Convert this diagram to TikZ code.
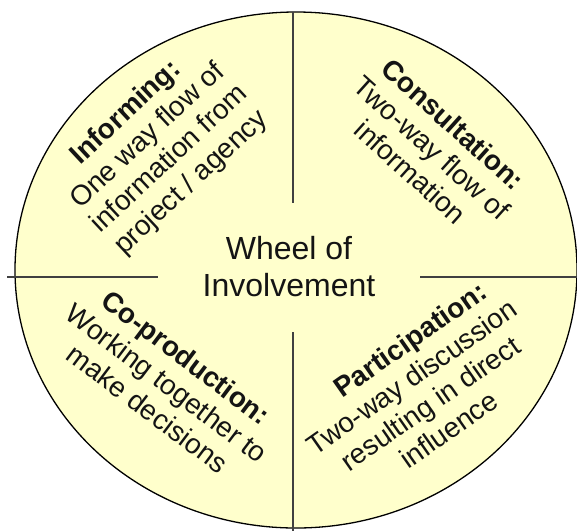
\documentclass[tikz,border=0pt]{standalone}
\usepackage{fontspec}
\setmainfont{Liberation Sans}
\begin{document}
\begin{tikzpicture}[x=1pt,y=-1pt,
  wheelfill/.style={fill=wheelyellow,draw=black,line width=1.3pt},
  divider/.style={draw=dividergray,line width=2.2pt},
  segtext/.style={align=center,text=textgray,inner sep=0pt,
    font=\fontsize{28}{32}\selectfont},
  hubtext/.style={align=center,text=textgray,inner sep=0pt,
    font=\fontsize{32}{37}\selectfont}]
\definecolor{wheelyellow}{RGB}{255,255,204}
\definecolor{dividergray}{RGB}{64,64,64}
\definecolor{textgray}{RGB}{20,20,20}
\useasboundingbox (0,0) rectangle (577,531);
% the wheel
\path[wheelfill] (296,270) ellipse [x radius=281, y radius=258];
% spokes, broken around the hub
\coordinate (vtop) at (293,12);
\coordinate (vtopend) at (293,203);
\coordinate (vbot) at (293,332);
\coordinate (vbotend) at (293,531);
\coordinate (hleft) at (7,277);
\coordinate (hleftend) at (158,277);
\coordinate (hright) at (420,277);
\coordinate (hrightend) at (577,277);
\draw[divider] (vtop) -- (vtopend);
\draw[divider] (vbot) -- (vbotend);
\draw[divider] (hleft) -- (hleftend);
\draw[divider] (hright) -- (hrightend);
% hub label
\node[hubtext] (hub) at (289,267) {Wheel of\\Involvement};
% quadrant labels
\node[segtext,rotate=43] (informing) at (159,148)
  {\textbf{Informing:}\\One way flow of\\information from\\project / agency};
\node[segtext,rotate=-42] (consult) at (432,148)
  {\textbf{Consultation:}\\Two-way flow of\\information};
\node[segtext,rotate=-37] (coprod) at (167,383)
  {\textbf{Co-production:}\\Working together to\\make decisions};
\node[segtext,rotate=35] (particip) at (421,390)
  {\hspace*{40pt}\textbf{Participation:}\\Two-way discussion\\resulting in direct\\influence};
\end{tikzpicture}
\end{document}
